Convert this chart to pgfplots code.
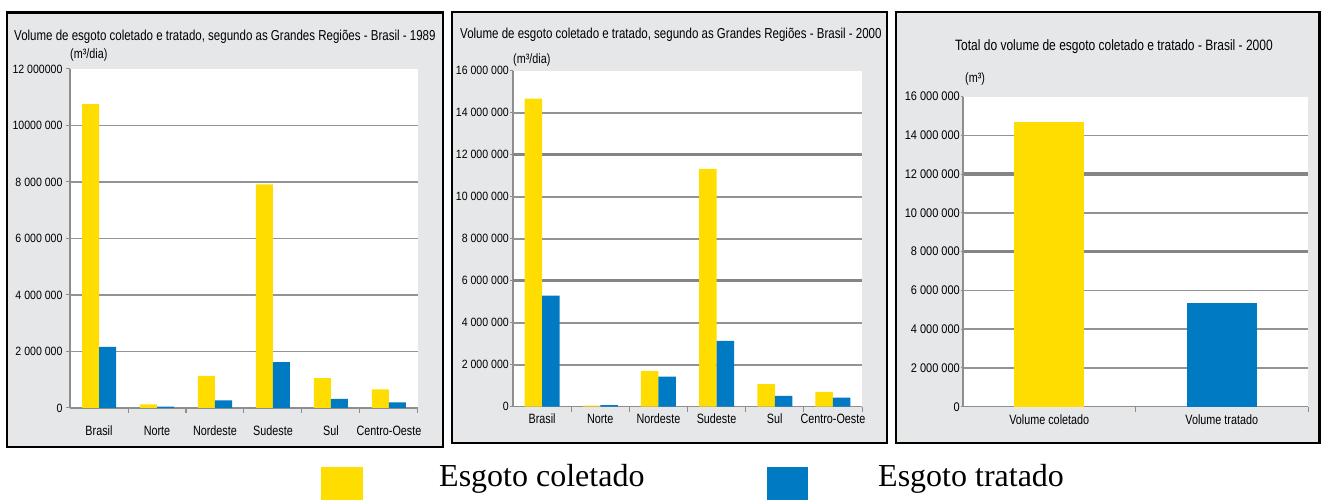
\documentclass[border=0pt]{standalone}
\usepackage{pgfplots}
\pgfplotsset{compat=1.18}
\usepackage{fontspec}
\setmainfont{Liberation Sans}
\newfontfamily\cf[FakeStretch=0.8]{Liberation Sans}
\newfontfamily\nf[FakeStretch=0.88]{Liberation Sans}
\newfontfamily\lf{Liberation Serif}
\definecolor{yelC}{HTML}{FFDD00}
\definecolor{bluC}{HTML}{007AC2}
\definecolor{panelbg}{HTML}{E6E7E8}
\definecolor{axgray}{HTML}{8E8E8E}
\definecolor{grgray}{HTML}{939393}
\definecolor{thgray}{HTML}{858585}

\pgfplotsset{
  panel/.style={
    scale only axis,
    axis x line*=bottom, axis y line*=left,
    axis line style={draw=axgray, line width=1.3pt},
    axis background/.style={fill=white},
    ymin=0,
    scaled y ticks=false,
    tick align=outside,
    major tick length=4pt,
    minor tick length=5pt,
    every major x tick/.append style={draw=none},
    every minor x tick/.append style={draw=axgray, line width=1pt},
    every major y tick/.append style={draw=axgray, line width=1pt},
    yticklabel style={font=\nf\fontsize{12}{13}\selectfont, text=black},
    xticklabel style={font=\cf\fontsize{13.5}{14}\selectfont, text=black, text height=10pt, text depth=3pt},
    extra y tick labels={},
    extra y tick style={grid=major, major grid style={draw=grgray, line width=1.7pt}},
    ybar=0pt,
  }
}

\begin{document}
\begin{tikzpicture}
\useasboundingbox (0pt,0pt) rectangle (1321pt,500pt);
% frames
\draw[line width=2.5pt, fill=panelbg] (7pt,53pt) rectangle (443pt,487.3pt);
\draw[line width=2.5pt, fill=panelbg] (452pt,57pt) rectangle (887pt,488pt);
\draw[line width=2.5pt, fill=panelbg] (896pt,57pt) rectangle (1319.7pt,488pt);

% titles
\node[anchor=base west, inner sep=0pt] at (14pt,459.5pt) {\cf\fontsize{14.4}{16}\selectfont Volume de esgoto coletado e tratado, segundo as Grandes Regiões - Brasil - 1989};
\node[anchor=base west, inner sep=0pt] at (70pt,441pt) {\cf\fontsize{13.5}{14}\selectfont (m³/dia)};
\node[anchor=base west, inner sep=0pt] at (460pt,461.5pt) {\cf\fontsize{14.4}{16}\selectfont Volume de esgoto coletado e tratado, segundo as Grandes Regiões - Brasil - 2000};
\node[anchor=base west, inner sep=0pt] at (513pt,436pt) {\cf\fontsize{13.5}{14}\selectfont (m³/dia)};
\node[anchor=base west, inner sep=0pt] at (955pt,449pt) {\cf\fontsize{15}{16}\selectfont Total do volume de esgoto coletado e tratado - Brasil - 2000};
\node[anchor=base west, inner sep=0pt] at (965pt,417pt) {\cf\fontsize{13.5}{14}\selectfont (m³)};

% Panel 1: 1989
\begin{axis}[panel, at={(70pt,92pt)}, anchor=south west,
  width=348pt, height=339pt,
  bar width=17pt,
  xmin=-0.5, xmax=5.5, ymax=12000000,
  xtick={0,1,2,3,4,5},
  xticklabels={Brasil,Norte,Nordeste,Sudeste,Sul,Centro-Oeste},
  minor xtick={0.5,1.5,2.5,3.5,4.5,5.5},
  xticklabel style={yshift=-9.5pt},
  ytick={0,2000000,4000000,6000000,8000000,10000000,12000000},
  yticklabels={0,2 000 000,4 000 000,6 000 000,8 000 000,10000 000,12 000000},
  extra y ticks={2000000,4000000,6000000,8000000,10000000},
]
\addplot[fill=yelC, draw=none] coordinates {(0,10760000) (1,130000) (2,1140000) (3,7920000) (4,1060000) (5,660000)};
\addplot[fill=bluC, draw=none] coordinates {(0,2160000) (1,50000) (2,270000) (3,1620000) (4,320000) (5,200000)};
\end{axis}

% Panel 2: 2000 regions
\begin{axis}[panel, at={(513pt,93.3pt)}, anchor=south west,
  width=349pt, height=336pt,
  bar width=17.5pt,
  xmin=-0.5, xmax=5.5, ymax=16000000,
  major tick length=3pt,
  xtick={0,1,2,3,4,5},
  xticklabels={Brasil,Norte,Nordeste,Sudeste,Sul,Centro-Oeste},
  minor xtick={0.5,1.5,2.5,3.5,4.5,5.5},
  xticklabel style={yshift=-0.5pt},
  yticklabel style={inner xsep=1pt},
  ytick={0,2000000,4000000,6000000,8000000,10000000,12000000,14000000,16000000},
  yticklabels={0,2 000 000,4 000 000,6 000 000,8 000 000,10 000 000,12 000 000,14 000 000,16 000 000},
  extra y ticks={2000000,4000000,6000000,8000000,10000000,12000000,14000000},
]
\draw[draw=thgray, line width=3.5pt] (axis cs:-0.5,12000000) -- (axis cs:5.5,12000000);
\draw[draw=thgray, line width=3.5pt] (axis cs:-0.5,6000000) -- (axis cs:5.5,6000000);
\addplot[fill=yelC, draw=none] coordinates {(0,14670000) (1,50000) (2,1690000) (3,11320000) (4,1070000) (5,700000)};
\addplot[fill=bluC, draw=none] coordinates {(0,5290000) (1,80000) (2,1430000) (3,3130000) (4,520000) (5,430000)};
\end{axis}

% Panel 3: totals
\begin{axis}[panel, at={(963pt,93.3pt)}, anchor=south west,
  width=345pt, height=310pt,
  bar width=70pt, bar shift=0pt,
  xmin=-0.5, xmax=1.5, ymax=16000000,
  major tick length=2.5pt,
  xtick={0,1},
  xticklabels={Volume coletado,Volume tratado},
  minor xtick={0.5,1.5},
  xticklabel style={yshift=-2pt},
  yticklabel style={inner xsep=0.5pt, font=\nf\fontsize{12.5}{13}\selectfont},
  ytick={0,2000000,4000000,6000000,8000000,10000000,12000000,14000000,16000000},
  yticklabels={0,2 000 000,4 000 000,6 000 000,8 000 000,10 000 000,12 000 000,14 000 000,16 000 000},
  extra y ticks={2000000,4000000,6000000,8000000,10000000,12000000,14000000},
]
\draw[draw=thgray, line width=3.5pt] (axis cs:-0.5,12000000) -- (axis cs:1.5,12000000);
\draw[draw=thgray, line width=3.5pt] (axis cs:-0.5,8000000) -- (axis cs:1.5,8000000);
\draw[draw=axgray, line width=2.5pt] (rel axis cs:0,0) -- (rel axis cs:0,1);
\addplot[fill=yelC, draw=none] coordinates {(0,14700000)};
\addplot[fill=bluC, draw=none] coordinates {(1,5360000)};
\end{axis}

% legend
\fill[yelC] (321pt,0pt) rectangle (363pt,33pt);
\node[anchor=base west, inner sep=0pt] at (439pt,13.3pt) {\lf\fontsize{32}{36}\selectfont Esgoto coletado};
\fill[bluC] (767pt,0pt) rectangle (808pt,33pt);
\node[anchor=base west, inner sep=0pt] at (878pt,13.3pt) {\lf\fontsize{32}{36}\selectfont Esgoto tratado};
\end{tikzpicture}
\end{document}
